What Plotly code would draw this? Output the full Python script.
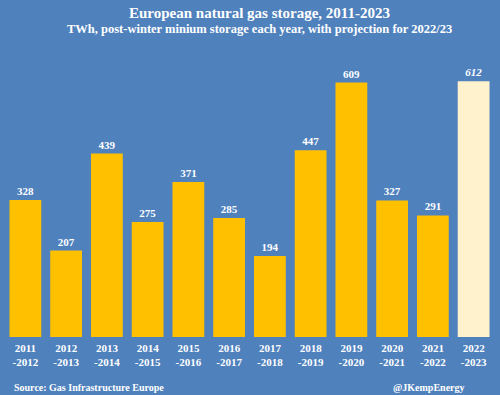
import plotly.graph_objects as go

categories = ["2011<br>-2012", "2012<br>-2013", "2013<br>-2014", "2014<br>-2015", "2015<br>-2016",
              "2016<br>-2017", "2017<br>-2018", "2018<br>-2019", "2019<br>-2020", "2020<br>-2021",
              "2021<br>-2022", "2022<br>-2023"]
values = [328, 207, 439, 275, 371, 285, 194, 447, 609, 327, 291, 612]
projected = [False]*11 + [True]

BG = "#4F81BD"
colors = ["#FFF2CC" if p else "#FFC000" for p in projected]
labels = [f"<i>{v}</i>" if p else f"{v}" for v, p in zip(values, projected)]
FONT = "Liberation Serif"

fig = go.Figure(go.Bar(
    x=categories, y=values, marker=dict(color=colors, line=dict(width=0)),
    text=labels, textposition="outside", cliponaxis=False, hoverinfo="skip",
    textfont=dict(family=FONT, size=11, color="white", weight="bold"),
))
fig.update_layout(
    width=500, height=395, paper_bgcolor=BG, plot_bgcolor=BG,
    margin=dict(l=5, r=6, t=60, b=58), bargap=0.22, showlegend=False,
    font=dict(family=FONT, color="white"),
    xaxis=dict(showgrid=False, zeroline=False, showline=False, ticks="", ticklabelstandoff=3,
               tickfont=dict(family=FONT, size=11, color="white", weight="bold")),
    yaxis=dict(range=[0, 663], showgrid=False, zeroline=False, showticklabels=False, showline=False),
    annotations=[
        dict(text="European natural gas storage, 2011-2023", x=0.52, y=1, xref="paper", yref="paper",
             yanchor="middle", xanchor="center", showarrow=False,
             font=dict(family=FONT, size=15, color="white", weight="bold"), yshift=47),
        dict(text="TWh, post-winter minium storage each year, with projection for 2022/23", x=0.52, y=1,
             xref="paper", yref="paper", yanchor="middle", xanchor="center", showarrow=False,
             font=dict(family=FONT, size=12.5, color="white", weight="bold"), yshift=31),
        dict(text="Source: Gas Infrastructure Europe", x=0, y=0, xref="paper", yref="paper",
             xanchor="left", yanchor="middle", showarrow=False, xshift=7, yshift=-50,
             font=dict(family=FONT, size=10, color="white", weight="bold")),
        dict(text="@JKempEnergy", x=1, y=0, xref="paper", yref="paper",
             xanchor="right", yanchor="middle", showarrow=False, xshift=-27, yshift=-50,
             font=dict(family=FONT, size=10, color="white", weight="bold")),
    ],
)
fig.write_html("out.html", config={"displayModeBar": False},
               post_script="document.body.style.margin='0';")
